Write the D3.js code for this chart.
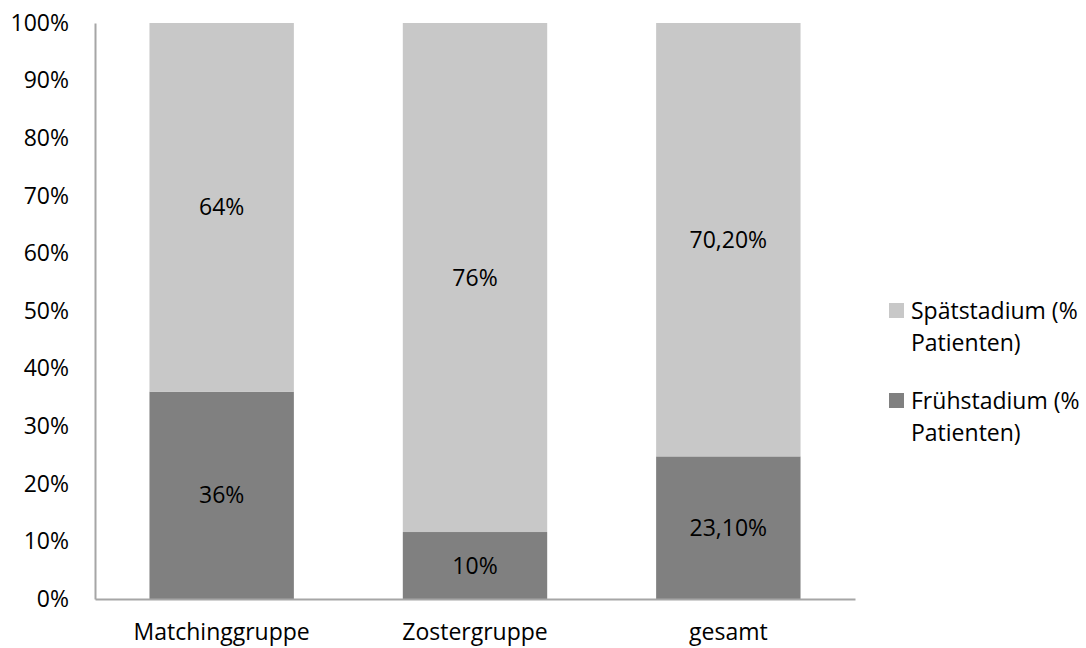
<!DOCTYPE html>
<html>
<head>
<meta charset="utf-8">
<script src="https://cdn.jsdelivr.net/npm/d3@7"></script>
<style>
  html, body { margin: 0; padding: 0; background: #fff; }
  svg text { font-family: "Open Sans", sans-serif; fill: #000; }
</style>
</head>
<body>
<svg id="chart" width="1086" height="648"></svg>
<script>
// Stage distribution per group (raw percentages as reported)
const categories = ["Matchinggruppe", "Zostergruppe", "gesamt"];
const fruehValues = [36, 10, 23.1];
const spaetValues = [64, 76, 70.2];
const fruehLabels = ["36%", "10%", "23,10%"];
const spaetLabels = ["64%", "76%", "70,20%"];
const seriesNames = ["Spätstadium (% Patienten)", "Frühstadium (% Patienten)"];
const tickValues = [0, 0.1, 0.2, 0.3, 0.4, 0.5, 0.6, 0.7, 0.8, 0.9, 1];

const colors = { frueh: "#808080", spaet: "#c8c8c8" };
const FONT = "\"Open Sans\", sans-serif";
const FS = "23px";

const svg = d3.select("#chart");
const margin = { left: 95, right: 231, top: 23, bottom: 49 };
const W = 1086, H = 648;
const x0 = margin.left, x1 = W - margin.right;
const y0 = H - margin.bottom, y1 = margin.top;

const x = d3.scaleBand().domain(categories).range([x0, x1]).paddingInner(0.43).paddingOuter(0.215);
const y = d3.scaleLinear().domain([0, 1]).range([y0, y1]);

// 100% stacked: each bar normalised to its own total
const rows = categories.map((c, i) => {
  const tot = fruehValues[i] + spaetValues[i];
  return { cat: c, frueh: fruehValues[i] / tot, spaet: spaetValues[i] / tot,
           fl: fruehLabels[i], sl: spaetLabels[i] };
});
const stack = d3.stack().keys(["frueh", "spaet"])(rows);

const g = svg.append("g");
stack.forEach(layer => {
  g.selectAll(null).data(layer).enter().append("rect")
    .attr("x", d => x(d.data.cat))
    .attr("width", x.bandwidth())
    .attr("y", d => y(d[1]))
    .attr("height", d => y(d[0]) - y(d[1]))
    .attr("fill", colors[layer.key]);
  g.selectAll(null).data(layer).enter().append("text")
    .attr("x", d => x(d.data.cat) + x.bandwidth() / 2)
    .attr("y", d => (y(d[0]) + y(d[1])) / 2)
    .attr("dy", "0.35em")
    .attr("text-anchor", "middle")
    .style("font-size", FS)
    .text(d => layer.key === "frueh" ? d.data.fl : d.data.sl);
});

// Y axis
const yAxis = d3.axisLeft(y).tickValues(tickValues).tickSize(0).tickPadding(26)
  .tickFormat(d3.format(".0%"));
const ya = svg.append("g").attr("transform", `translate(${x0},0)`).call(yAxis);
ya.select(".domain").attr("stroke", "#a6a6a6").attr("stroke-width", 2);
ya.selectAll("text").style("font-size", FS).style("font-family", FONT);

// X axis
const xAxis = d3.axisBottom(x).tickSize(0).tickPadding(25);
const xa = svg.append("g").attr("transform", `translate(0,${y0})`).call(xAxis);
xa.select(".domain").attr("stroke", "#a6a6a6").attr("stroke-width", 2);
xa.selectAll("text").style("font-size", FS).style("font-family", FONT);

// Legend
const legend = [
  { name: seriesNames[0], color: colors.spaet, top: 303 },
  { name: seriesNames[1], color: colors.frueh, top: 393 }
];
legend.forEach(l => {
  svg.append("rect").attr("x", 889).attr("y", l.top).attr("width", 15).attr("height", 15).attr("fill", l.color);
  const parts = [l.name.replace(" Patienten)", ""), "Patienten)"];
  parts.forEach((p, i) => {
    svg.append("text").attr("x", 911).attr("y", l.top + 8 + i * 32).attr("dy", "0.35em")
      .style("font-size", FS).text(p);
  });
});
</script>
</body>
</html>
